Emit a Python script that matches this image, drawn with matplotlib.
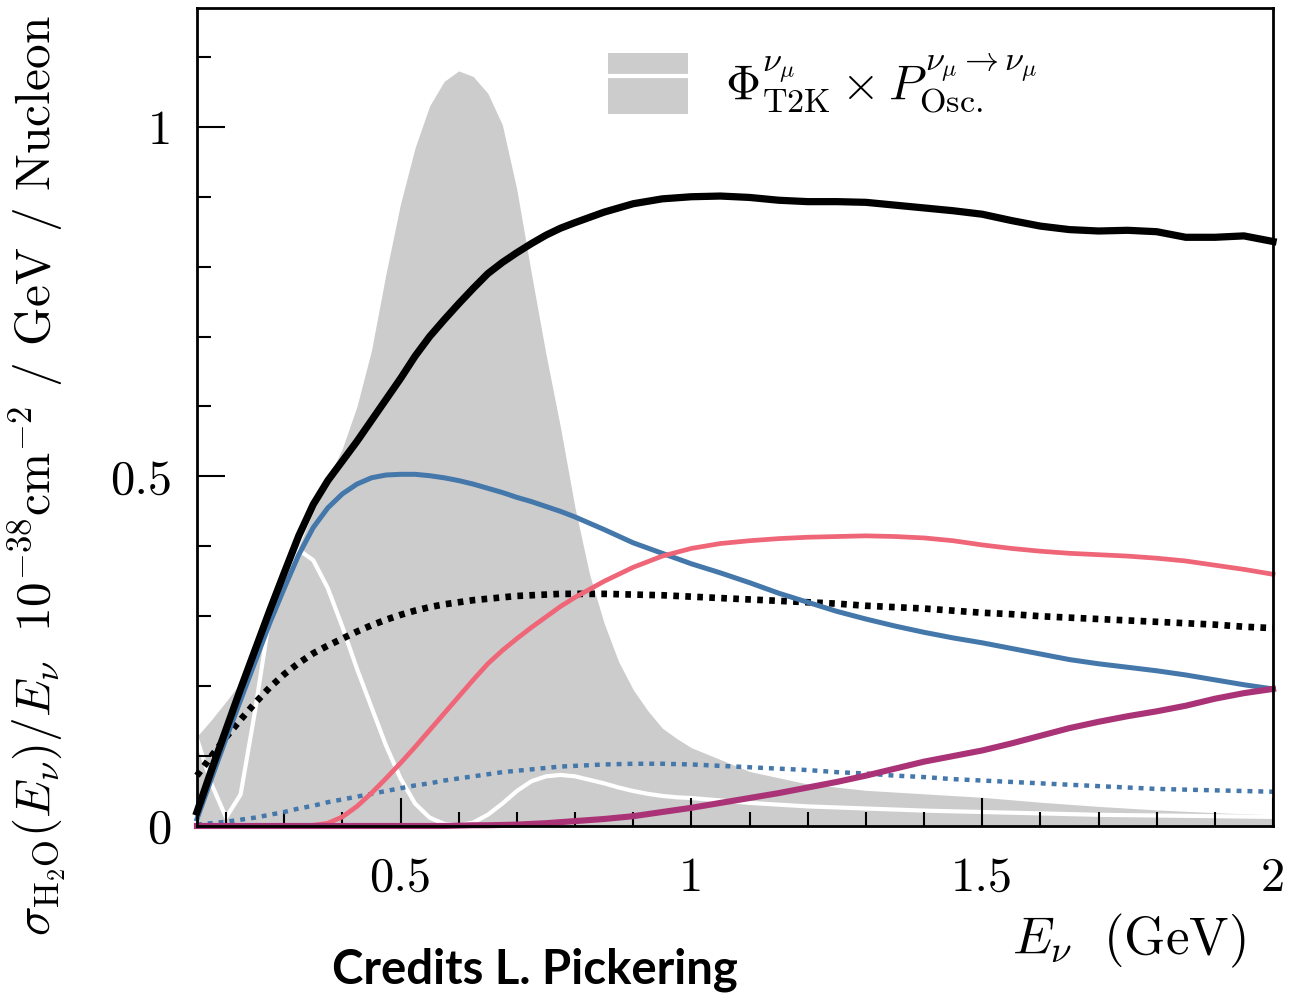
import matplotlib.pyplot as plt
from matplotlib.patches import Patch
from matplotlib.lines import Line2D
from matplotlib.ticker import FixedLocator, MultipleLocator

plt.rcParams['font.family'] = 'serif'
plt.rcParams['font.serif'] = ['cmr10']
plt.rcParams['mathtext.fontset'] = 'cm'
plt.rcParams['axes.formatter.use_mathtext'] = True

# neutrino energy grid (GeV) for the cross-section curves
energy = [0.15, 0.175, 0.2, 0.225, 0.25, 0.275, 0.3, 0.325, 0.35, 0.375, 0.4,
          0.425, 0.45, 0.475, 0.5, 0.525, 0.55, 0.575, 0.6, 0.625, 0.65, 0.675,
          0.7, 0.725, 0.75, 0.775, 0.8,
          0.85, 0.9, 0.95, 1.0, 1.05, 1.1, 1.15, 1.2, 1.25, 1.3, 1.35, 1.4,
          1.45, 1.5, 1.55, 1.6, 1.65, 1.7, 1.75, 1.8, 1.85, 1.9, 1.95, 2.0]

# sigma/E in 1e-38 cm^2 / GeV / nucleon
total = [0.02, 0.08, 0.138, 0.196, 0.252, 0.308, 0.362, 0.415, 0.46, 0.494, 0.522,
         0.55, 0.58, 0.61, 0.64, 0.672, 0.70, 0.724, 0.747, 0.769, 0.79, 0.806,
         0.82, 0.833, 0.845, 0.855, 0.863,
         0.878, 0.89, 0.897, 0.90, 0.901, 0.899, 0.895, 0.893, 0.893, 0.892, 0.888, 0.884,
         0.88, 0.875, 0.866, 0.858, 0.853, 0.851, 0.852, 0.85, 0.842, 0.842, 0.844, 0.836]
total_dotted = [0.072, 0.10, 0.127, 0.152, 0.176, 0.198, 0.217, 0.233, 0.247, 0.258, 0.268,
                0.278, 0.287, 0.295, 0.302, 0.308, 0.313, 0.317, 0.32, 0.323, 0.325, 0.327,
                0.329, 0.33, 0.331, 0.332, 0.332,
                0.332, 0.331, 0.33, 0.328, 0.326, 0.324, 0.322, 0.32, 0.318, 0.315, 0.313, 0.311,
                0.308, 0.305, 0.303, 0.3, 0.298, 0.296, 0.294, 0.292, 0.29, 0.288, 0.285, 0.283]
ccqe = [0.01, 0.068, 0.125, 0.18, 0.235, 0.29, 0.34, 0.388, 0.427, 0.455, 0.475,
        0.489, 0.498, 0.502, 0.503, 0.503, 0.501, 0.498, 0.494, 0.489, 0.483, 0.477,
        0.47, 0.464, 0.457, 0.45, 0.442,
        0.424, 0.405, 0.39, 0.375, 0.362, 0.348, 0.333, 0.32, 0.307, 0.296, 0.286, 0.277,
        0.269, 0.262, 0.254, 0.246, 0.238, 0.232, 0.227, 0.222, 0.216, 0.209, 0.202, 0.196]
ccqe_dotted = [0.002, 0.004, 0.006, 0.009, 0.012, 0.016, 0.02, 0.025, 0.029, 0.034, 0.038,
               0.042, 0.046, 0.05, 0.054, 0.058, 0.061, 0.065, 0.068, 0.071, 0.074, 0.077,
               0.079, 0.081, 0.083, 0.085, 0.086,
               0.088, 0.089, 0.089, 0.088, 0.086, 0.084, 0.082, 0.08, 0.077, 0.075, 0.072, 0.07,
               0.067, 0.065, 0.063, 0.061, 0.059, 0.057, 0.055, 0.053, 0.052, 0.051, 0.05, 0.049]
res = [0.0, 0.0, 0.0, 0.0, 0.0, 0.0, 0.0, 0.0, 0.001, 0.004, 0.013,
       0.028, 0.047, 0.068, 0.09, 0.113, 0.137, 0.161, 0.185, 0.209, 0.232, 0.251,
       0.268, 0.284, 0.299, 0.314, 0.327,
       0.35, 0.37, 0.386, 0.397, 0.404, 0.408, 0.411, 0.413, 0.414, 0.415, 0.414, 0.412,
       0.408, 0.402, 0.397, 0.393, 0.39, 0.388, 0.386, 0.383, 0.379, 0.373, 0.367, 0.36]
dis = [0.0, 0.0, 0.0, 0.0, 0.0, 0.0, 0.0, 0.0, 0.0, 0.0, 0.0,
       0.0, 0.0, 0.0, 0.0, 0.0, 0.0, 0.0, 0.0005, 0.001, 0.001, 0.0015,
       0.002, 0.003, 0.004, 0.0055, 0.007,
       0.01, 0.014, 0.02, 0.026, 0.033, 0.04, 0.047, 0.055, 0.063, 0.072, 0.082, 0.092,
       0.10, 0.108, 0.118, 0.129, 0.14, 0.149, 0.157, 0.164, 0.172, 0.182, 0.19, 0.196]

# flux shape (arbitrary units) and its oscillated version
flux_energy = [0.15, 0.175, 0.2, 0.225, 0.25, 0.275, 0.3, 0.325, 0.35, 0.375, 0.4,
               0.425, 0.45, 0.475, 0.5, 0.525, 0.55, 0.575, 0.6, 0.625, 0.65, 0.675,
               0.7, 0.725, 0.75, 0.775, 0.8, 0.825, 0.85, 0.875, 0.9, 0.925, 0.95,
               0.975, 1.0, 1.1, 1.2, 1.3, 1.4, 1.5, 1.6, 1.7, 1.8, 1.9, 2.0]
flux = [0.128, 0.152, 0.178, 0.205, 0.235, 0.285, 0.34, 0.40, 0.45, 0.495, 0.54,
        0.60, 0.68, 0.79, 0.89, 0.97, 1.03, 1.065, 1.08, 1.072, 1.048, 1.003,
        0.91, 0.79, 0.675, 0.57, 0.455, 0.36, 0.29, 0.235, 0.195, 0.165, 0.14,
        0.125, 0.112, 0.078, 0.06, 0.051, 0.046, 0.041, 0.034, 0.028, 0.023, 0.019, 0.016]
flux_osc = [0.125, 0.06, 0.012, 0.045, 0.165, 0.30, 0.372, 0.395, 0.38, 0.34, 0.285,
            0.225, 0.17, 0.115, 0.068, 0.032, 0.012, 0.003, 0.001, 0.005, 0.016, 0.032,
            0.05, 0.064, 0.071, 0.073, 0.071, 0.066, 0.061, 0.055, 0.05, 0.046, 0.043,
            0.041, 0.04, 0.033, 0.028, 0.025, 0.022, 0.02, 0.018, 0.016, 0.015, 0.014, 0.013]

blue = '#4477aa'
red = '#ee6677'
purple = '#aa3377'
grey = '#cccccc'

fig = plt.figure(figsize=(12.89, 9.96), dpi=100)
ax = fig.add_axes([0.1528, 0.1707, 0.8348, 0.8213])

ax.fill_between(flux_energy, 0, flux, color=grey, lw=0, zorder=1)
ax.plot(flux_energy, flux_osc, color='white', lw=3, zorder=1.5)

ax.plot(energy, total_dotted, color='black', lw=4.8, ls=(0, (0.85, 0.95)),
        dash_capstyle='butt', zorder=2, clip_on=False)
ax.plot(energy, ccqe_dotted, color=blue, lw=3.2, ls=(0, (1.1, 1.35)),
        dash_capstyle='butt', zorder=2, clip_on=False)
ax.plot(energy, ccqe, color=blue, lw=3.6, zorder=2.1, clip_on=False)
ax.plot(energy, res, color=red, lw=3.4, zorder=2.2, clip_on=False)
ax.plot(energy, dis, color=purple, lw=4.4, zorder=2.3, clip_on=False)
ax.plot(energy, total, color='black', lw=5.2, zorder=2.4, clip_on=False)

ax.set_xlim(0.15, 2.0)
ax.set_ylim(0, 1.17)

ax.xaxis.set_major_locator(FixedLocator([0.5, 1.0, 1.5, 2.0]))
ax.xaxis.set_minor_locator(FixedLocator([0.2 + 0.1 * i for i in range(18)]))
ax.set_xticklabels(['0.5', '1', '1.5', '2'])
ax.yaxis.set_major_locator(FixedLocator([0, 0.5, 1.0]))
ax.yaxis.set_minor_locator(MultipleLocator(0.1))
ax.set_yticklabels(['0', '0.5', '1'])

ax.tick_params(which='both', direction='in', top=False, right=False, width=1.5,
               labelsize=35)
ax.tick_params(which='major', length=20)
ax.tick_params(which='minor', length=10)
ax.tick_params(axis='x', which='major', pad=22)
ax.tick_params(axis='y', which='major', pad=18)
for s in ax.spines.values():
    s.set_linewidth(2)
    s.set_zorder(3)

ax.set_ylabel(r'$\sigma_{\mathrm{H}_2\mathrm{O}}(E_\nu)/E_\nu\ \ 10^{-38}\mathrm{cm}^{-2}$ / GeV / Nucleon',
              fontsize=35.5)
ax.yaxis.set_label_coords(-0.118, 0.428)
ax.set_xlabel(r'$E_\nu\ \ (\mathrm{GeV})$', fontsize=38)
ax.xaxis.set_label_coords(0.866, -0.105)

handle = (Patch(facecolor=grey, edgecolor='none'), Line2D([], [], color='white', lw=3))
ax.legend([handle],
          [r'$\Phi^{\nu_\mu}_{\mathrm{T2K}}\times P^{\nu_\mu\rightarrow\nu_\mu}_{\mathrm{Osc.}}$'],
          loc='upper left', bbox_to_anchor=(0.382, 0.947), frameon=False, fontsize=35,
          handlelength=1.65, handleheight=1.55, handletextpad=0.75,
          borderpad=0, borderaxespad=0)

fig.text(535 / 1289, 1 - 970 / 996, 'Credits L. Pickering', family='Lato',
         weight='bold', fontsize=34, ha='center', va='center')

fig.savefig('out.png', dpi=100)
